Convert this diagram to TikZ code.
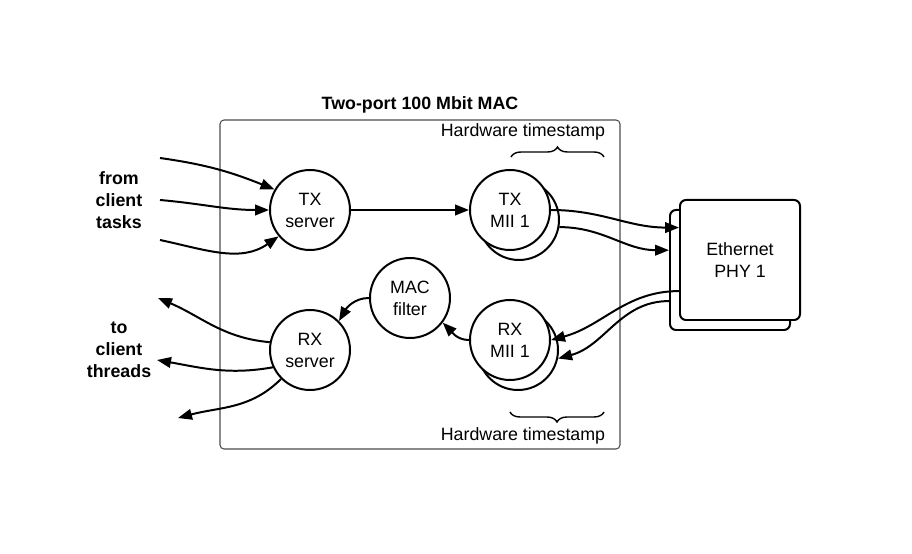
\documentclass[tikz,border=0pt]{standalone}
\usepackage{fontspec}
\setmainfont{Liberation Sans}
\usetikzlibrary{arrows.meta,decorations.pathreplacing}
\tikzset{
  unit/.style={circle,draw,line width=1.7pt,fill=white,minimum size=2.4cm,inner sep=0pt,align=center},
  phybox/.style={rectangle,draw,line width=1.7pt,fill=white,rounded corners=0.18cm,minimum size=3.6cm,inner sep=0pt,align=center},
  flow/.style={line width=1.7pt,-{Triangle[length=0.42cm,width=0.32cm]}},
  side/.style={font=\fontsize{15.2}{18.8}\selectfont\bfseries,align=center},
  hwbrace/.style={decorate,decoration={brace,amplitude=0.3cm},line width=1.2pt}
}
\begin{document}
\begin{tikzpicture}[x=0.03cm,y=0.03cm,font=\fontsize{15.2}{18.8}\selectfont]
        \useasboundingbox (0,0) rectangle (912,554);
        % MACの枠
        \draw[line width=0.9pt,draw=black!70,rounded corners=0.12cm] (220,105) rectangle (620,434);
        \node[font=\fontsize{15.2}{18.8}\selectfont\bfseries] (title) at (420,449) {Two-port 100 Mbit MAC};
        % タイムスタンプの注記
        \node (hwtop) at (523,422) {Hardware timestamp};
        \draw[hwbrace] (511,397) -- (604,397);
        \node (hwbot) at (523,118) {Hardware timestamp};
        \draw[hwbrace] (604,142) -- (510,142);
        % 送信側
        \node[unit] (txsrv) at (310,344) {TX\\server};
        \node[unit] (txmiib) at (519,334) {};
        \node[unit] (txmii) at (510,344) {TX\\MII 1};
        % 受信側
        \node[unit] (macflt) at (410,256) {MAC\\filter};
        \node[unit] (rxsrv) at (310,204) {RX\\server};
        \node[unit] (rxmiib) at (518,204) {};
        \node[unit] (rxmii) at (510,214) {RX\\MII 1};
        % PHY
        \node[phybox] (phyb) at (730,284) {};
        \node[phybox] (phy) at (740,294) {Ethernet\\PHY 1};
        % クライアント側のラベル
        \node[side] (from) at (119,354) {from\\client\\tasks};
        \node[side] (to) at (119,204) {to\\client\\threads};
        \coordinate (in1) at (160,396);
        \coordinate (in2) at (160,354);
        \coordinate (in3) at (160,314);
        \coordinate (out1) at (158,256);
        \coordinate (out2) at (157,194);
        \coordinate (out3) at (178,136);
        % 矢印
        \draw[flow] (in1) to[out=-8,in=158] (txsrv.150);
        \draw[flow] (in2) to[out=-5,in=180] (txsrv.180);
        \draw[flow] (in3) to[out=-12,in=215] (txsrv.220);
        \draw[flow] (txsrv) -- (txmii);
        \draw[flow] (txmii.east) to[out=0,in=180] (phy.152);
        \draw[flow] (txmiib.-10) to[out=0,in=180] (phyb.162);
        \draw[flow] (phy.207) to[out=180,in=15] (rxmii.east);
        \draw[flow] (phyb.207) to[out=180,in=15] (rxmiib.-12);
        \draw[flow] (rxmii.west) to[out=180,in=-45] (macflt.-37);
        \draw[flow] (macflt.west) to[out=180,in=60] (rxsrv.45);
        \draw[flow] (rxsrv.169) to[out=175,in=-23] (out1);
        \draw[flow] (rxsrv.205) to[out=190,in=-10] (out2);
        \draw[flow] (rxsrv.225) to[out=225,in=15] (out3);
      \end{tikzpicture}
\end{document}
